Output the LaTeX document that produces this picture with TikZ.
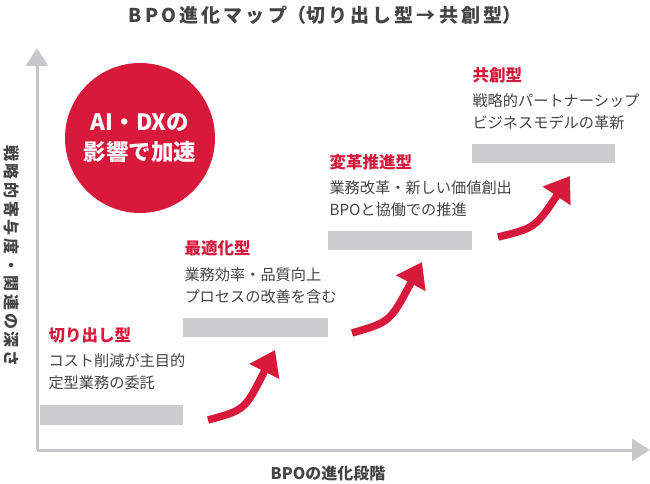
\documentclass[tikz,border=0pt]{standalone}
\usepackage{fontspec}
\setmainfont{Noto Sans CJK JP}
\usetikzlibrary{arrows.meta}
\definecolor{accent}{HTML}{D7193C}
\definecolor{bargray}{HTML}{CCCCCE}
\definecolor{axisgray}{HTML}{C8C8CC}
\definecolor{txtgray}{HTML}{444444}
\begin{document}
\begin{tikzpicture}[x=1pt,y=-1pt]
    \tikzset{stage/.style={anchor=west, text=accent, font=\fontsize{16.5}{18}\selectfont\bfseries},
             desc/.style={anchor=north west, align=left, text=txtgray, font=\fontsize{15.2}{22}\selectfont},
             bar/.style={fill=bargray, draw=none},
             axis/.style={draw=axisgray, line width=3pt, -{Triangle[length=18pt,width=22pt]}},
             boost/.style={draw=accent, line width=7.5pt, -{Triangle[length=24pt,width=32pt]}}}
    \useasboundingbox (0,0) rectangle (650,483);

    % Title
    \node[text=txtgray, font=\fontsize{19}{21}\selectfont\bfseries] (title) at (325,15) {B\,P\,O\,進\,化\,マ\,ッ\,プ（切\,り\,出\,し\,型\,→\,共\,創\,型）};

    % Axes
    \coordinate (origin) at (37,450);
    \coordinate (ytop) at (37,48);
    \coordinate (xend) at (650,450);
    \draw[axis] (origin) -- (ytop);
    \draw[axis] (origin) -- (xend);
    \node[rotate=-90, text=txtgray, font=\fontsize{16}{18}\selectfont\bfseries] (ylab) at (12,256) {戦\,略\,的\,寄\,与\,度\,・\,関\,連\,の\,深\,さ};
    \node[text=txtgray, font=\fontsize{16}{18}\selectfont\bfseries] (xlab) at (328,473) {BPOの進化段階};

    % Circle
    \node[circle, fill=accent, minimum size=150pt, align=center, text=white,
          font=\fontsize{22.5}{30}\selectfont\bfseries] (boostc) at (140,138) {AI・DXの\\影響で加速};

    % Stages
    \fill[bar] (40,405) rectangle (183,425);
    \fill[bar] (183,318) rectangle (328,337);
    \fill[bar] (328,231) rectangle (472,250);
    \fill[bar] (472,144) rectangle (615,163);
    \node[stage] (s1) at (45,335) {切り出し型};
    \node[desc] (d1) at (45,350) {コスト削減が主目的\\定型業務の委託};
    \node[stage] (s2) at (181,248) {最適化型};
    \node[desc] (d2) at (181,264) {業務効率・品質向上\\プロセスの改善を含む};
    \node[stage] (s3) at (326,162) {変革推進型};
    \node[desc] (d3) at (326,177) {業務改革・新しい価値創出\\BPOと協働での推進};
    \node[stage] (s4) at (469,75) {共創型};
    \node[desc] (d4) at (469,90) {戦略的パートナーシップ\\ビジネスモデルの革新};

    % Arrows
    \coordinate (a1) at (208,420); \coordinate (b1) at (275,350);
    \coordinate (a2) at (352,333); \coordinate (b2) at (422,262);
    \coordinate (a3) at (498,237); \coordinate (b3) at (570,176);
    \draw[boost] (a1) .. controls (245,410) .. (b1);
    \draw[boost] (a2) .. controls (390,322) .. (b2);
    \draw[boost] (a3) .. controls (535,228) .. (b3);
\end{tikzpicture}
\end{document}
